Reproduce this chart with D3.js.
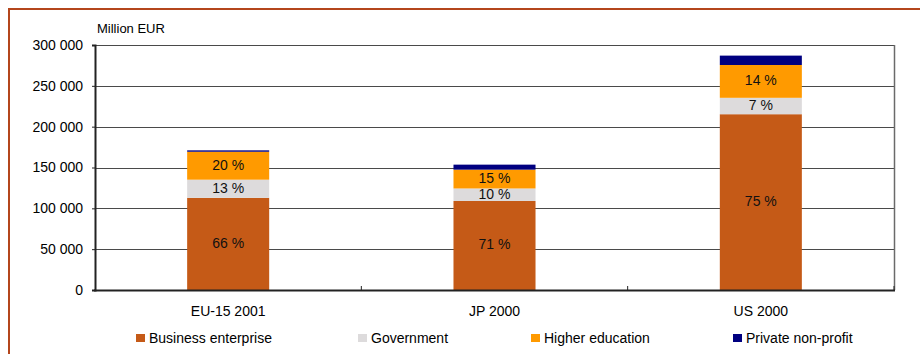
<!DOCTYPE html>
<html>
<head>
<meta charset="utf-8">
<script src="https://cdn.jsdelivr.net/npm/d3@7"></script>
<style>
  html, body { margin: 0; padding: 0; background: #fff; }
  svg { display: block; font-family: "Liberation Sans", Arial, sans-serif; }
</style>
</head>
<body>
<svg id="chart" width="920" height="354"></svg>
<script>
// R&D expenditure by sector of performance
const categories = ["EU-15 2001", "JP 2000", "US 2000"];
const totals = [171000, 153500, 287000];               // Million EUR
const seriesNames = ["Business enterprise", "Government", "Higher education", "Private non-profit"];
const businessShare = [66, 71, 75];                    // % of total
const governmentShare = [13, 10, 7];
const higherEduShare = [20, 15, 14];
const privateShare = [1, 4, 4];
const yTicks = [0, 50000, 100000, 150000, 200000, 250000, 300000];
const yTitle = "Million EUR";
const colors = ["#C55A17", "#DDDBDC", "#FF9A00", "#000080"];
const labelledSeries = [true, true, true, false];

const shares = [businessShare, governmentShare, higherEduShare, privateShare];

// Build the stack table: segment values derived from total × share
const table = categories.map((c, i) => {
  const row = { category: c };
  seriesNames.forEach((s, k) => { row[s] = totals[i] * shares[k][i] / 100; });
  return row;
});
const stacked = d3.stack().keys(seriesNames)(table);

const svg = d3.select("#chart");
const plot = { left: 95, right: 894, top: 45, bottom: 290 };

// Outer frame
svg.append("rect")
  .attr("x", 9).attr("y", 9).attr("width", 930).attr("height", 360)
  .attr("fill", "none").attr("stroke", "#B4461C").attr("stroke-width", 2);

const x = d3.scaleBand().domain(categories)
  .range([plot.left, plot.right])
  .paddingInner(0.692).paddingOuter(0.346);
const y = d3.scaleLinear().domain([0, 300000]).range([plot.bottom, plot.top]);

const locale = d3.formatLocale({ decimal: ".", thousands: " ", grouping: [3], currency: ["", ""] });
const fmt = locale.format(",");

// Gridlines
svg.append("g").selectAll("line").data(yTicks.filter(t => t > 0)).join("line")
  .attr("x1", plot.left).attr("x2", plot.right)
  .attr("y1", d => Math.round(y(d)) + 0.5).attr("y2", d => Math.round(y(d)) + 0.5)
  .attr("stroke", "#4a4a4a").attr("stroke-width", 1);

// Right edge of plot area
svg.append("line")
  .attr("x1", plot.right + 0.5).attr("x2", plot.right + 0.5)
  .attr("y1", plot.top).attr("y2", plot.bottom)
  .attr("stroke", "#6a6a6a").attr("stroke-width", 1.5);

// Bars
svg.append("g").selectAll("g").data(stacked).join("g")
  .attr("fill", (d, k) => colors[k])
  .selectAll("rect").data(d => d).join("rect")
  .attr("x", d => x(d.data.category))
  .attr("width", x.bandwidth())
  .attr("y", d => y(d[1]))
  .attr("height", d => y(d[0]) - y(d[1]));

// Percentage labels inside segments
stacked.forEach((layer, k) => {
  if (!labelledSeries[k]) return;
  svg.append("g").selectAll("text").data(layer).join("text")
    .attr("x", d => x(d.data.category) + x.bandwidth() / 2)
    .attr("y", d => (y(d[0]) + y(d[1])) / 2 - 1)
    .attr("text-anchor", "middle")
    .attr("dominant-baseline", "central")
    .attr("font-size", 14)
    .attr("fill", "#111")
    .text((d, i) => shares[k][i] + " %");
});

// Y axis
const yAxis = d3.axisLeft(y).tickValues(yTicks).tickFormat(fmt).tickSize(3).tickPadding(9);
const gy = svg.append("g").attr("transform", `translate(${plot.left},0)`).call(yAxis);
gy.select(".domain").attr("stroke", "#222").attr("stroke-width", 2);
gy.selectAll(".tick line").attr("stroke", "#222");
gy.selectAll(".tick text").attr("font-size", 14).attr("fill", "#000")
  .attr("font-family", "Liberation Sans, Arial, sans-serif");

// X axis
const gx = svg.append("g").attr("transform", `translate(0,${plot.bottom})`);
gx.append("line").attr("x1", plot.left - 1).attr("x2", plot.right + 1)
  .attr("y1", 0.5).attr("y2", 0.5).attr("stroke", "#222").attr("stroke-width", 2);
const boundaries = categories.map(c => x(c) - x.step() * x.paddingInner() / 2).concat([plot.right]);
gx.selectAll("line.tick").data(boundaries.slice(1)).join("line").attr("class", "tick")
  .attr("x1", d => d).attr("x2", d => d).attr("y1", 0).attr("y2", -4)
  .attr("stroke", "#222").attr("stroke-width", 1);
gx.selectAll("text").data(categories).join("text")
  .attr("x", d => x(d) + x.bandwidth() / 2)
  .attr("y", 26)
  .attr("text-anchor", "middle")
  .attr("font-size", 14).attr("fill", "#000")
  .text(d => d);

// Axis title
svg.append("text").attr("x", 97).attr("y", 33)
  .attr("font-size", 13).attr("fill", "#000").text(yTitle);

// Legend
const legendX = [136, 358, 531, 733];
const lg = svg.append("g").selectAll("g").data(seriesNames).join("g")
  .attr("transform", (d, k) => `translate(${legendX[k]},334)`);
lg.append("rect").attr("width", 9).attr("height", 8).attr("fill", (d, k) => colors[k]);
lg.append("text").attr("x", 13).attr("y", 8.5)
  .attr("font-size", 14).attr("fill", "#000").text(d => d);
</script>
</body>
</html>
